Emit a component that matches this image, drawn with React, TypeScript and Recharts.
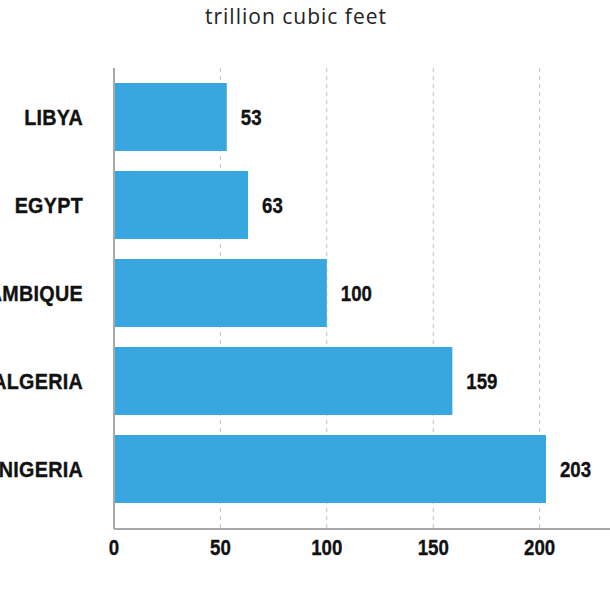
import React from 'react';
import { BarChart, Bar, XAxis, YAxis, CartesianGrid, LabelList } from 'recharts';

const categories = ['LIBYA', 'EGYPT', 'MOZAMBIQUE', 'ALGERIA', 'NIGERIA'];
const reserves = [53, 63, 100, 159, 203];
const xTicks = [0, 50, 100, 150, 200, 250];
const title = 'trillion cubic feet';

const data = categories.map((country, i) => ({ country, value: reserves[i] }));

const boldFont = "'Liberation Sans', Arial, sans-serif";
const ink = '#111';

function YTick(props: any) {
  const { x, y, payload } = props;
  return (
    <g transform={`translate(${x},${y})`}>
      <text
        transform="scale(0.92,1)"
        textAnchor="end"
        dy="0.36em"
        fontFamily={boldFont}
        fontWeight={700}
        fontSize={21.5}
        fill={ink}
        stroke={ink}
        strokeWidth={0.35}
        letterSpacing={0.3}
      >
        {payload.value}
      </text>
    </g>
  );
}

function XTick(props: any) {
  const { x, y, payload } = props;
  return (
    <g transform={`translate(${x},${y})`}>
      <text
        transform="scale(0.83,1)"
        textAnchor="middle"
        dy="0.72em"
        fontFamily={boldFont}
        fontWeight={700}
        fontSize={22.5}
        fill={ink}
        stroke={ink}
        strokeWidth={0.35}
      >
        {payload.value}
      </text>
    </g>
  );
}

function ValueLabel(props: any) {
  const { x, y, width, height, value } = props;
  const lx = Number(x) + Number(width) + 14;
  const ly = Number(y) + Number(height) / 2;
  return (
    <g transform={`translate(${lx},${ly})`}>
      <text
        transform="scale(0.83,1)"
        textAnchor="start"
        dy="0.36em"
        fontFamily={boldFont}
        fontWeight={700}
        fontSize={22.5}
        fill={ink}
        stroke={ink}
        strokeWidth={0.35}
      >
        {value}
      </text>
    </g>
  );
}

export default function App() {
  return (
    <div style={{ position: 'absolute', left: 0, top: 0, width: 610, height: 610, overflow: 'hidden', background: '#fff' }}>
      <div
        style={{
          position: 'absolute',
          left: 0,
          top: 6,
          width: 592,
          textAlign: 'center',
          fontFamily: "'Open Sans', sans-serif",
          fontSize: 21,
          lineHeight: '21px',
          letterSpacing: 1,
          color: '#222',
        }}
      >
        {title}
      </div>
      <div style={{ position: 'absolute', left: -60, top: 0 }}>
        <BarChart
          layout="vertical"
          width={720}
          height={610}
          data={data}
          margin={{ top: 68, right: 14, bottom: 41, left: 0 }}
        >
          <CartesianGrid horizontal={false} stroke="#c4c4c4" strokeDasharray="4 4" />
          <XAxis
            type="number"
            domain={[0, 250]}
            ticks={xTicks}
            tickLine={false}
            tickSize={0}
            tickMargin={10}
            height={40}
            axisLine={{ stroke: '#a8a8a8', strokeWidth: 2 }}
            tick={<XTick />}
          />
          <YAxis
            type="category"
            dataKey="country"
            width={174}
            tickLine={false}
            tickSize={0}
            tickMargin={31}
            padding={{ top: 5, bottom: 16 }}
            axisLine={{ stroke: '#a8a8a8', strokeWidth: 2 }}
            tick={<YTick />}
          />
          <Bar dataKey="value" fill="#38a6df" barSize={68} isAnimationActive={false}>
            <LabelList dataKey="value" content={<ValueLabel />} />
          </Bar>
        </BarChart>
      </div>
    </div>
  );
}
